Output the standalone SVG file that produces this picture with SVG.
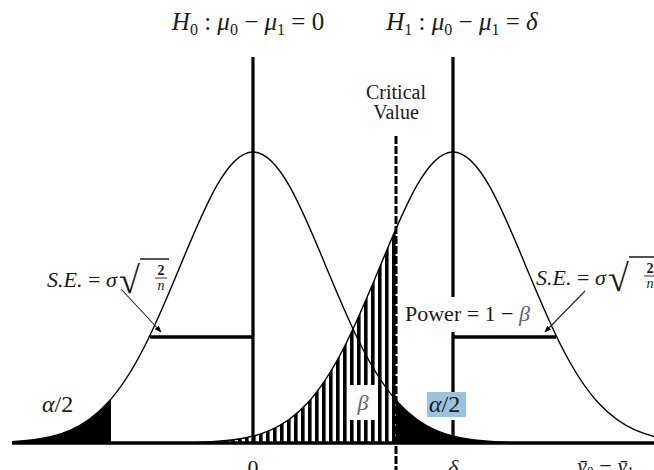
<svg xmlns="http://www.w3.org/2000/svg" width="654" height="470" viewBox="0 0 654 470">
<style>
text{font-family:"Liberation Serif","Times New Roman",serif;fill:#1a1a1a}
.it{font-style:italic}
.thick{stroke:#000;stroke-width:3.2;fill:none}
.curve{stroke:#000;stroke-width:1.4;fill:none}
.lead{stroke:#222;stroke-width:1.1;fill:none}
.gray{fill:#5a6275}
.rule{stroke:#1a1a1a;fill:none}
</style>
<defs>
<path id="gauss" d="M-255.5,442.4 C-243.333,442.0 -231.167,441.4 -219,439.8 C-206.833,438.2 -194.667,435.5 -182.5,430.2 C-170.333,424.9 -158.167,416.7 -146,403.6 C-133.833,390.5 -121.667,372.1 -109.5,348.5 C-97.333,324.9 -85.167,295.9 -73,266.5 C-60.833,237.1 -48.667,207.6 -36.5,186.2 C-24.333,164.8 -12.167,152 0,152 C12.167,152 24.333,164.8 36.5,186.2 C48.667,207.6 60.833,237.1 73,266.5 C85.167,295.9 97.333,324.9 109.5,348.5 C121.667,372.1 133.833,390.5 146,403.6 C158.167,416.7 170.333,424.9 182.5,430.2 C194.667,435.5 206.833,438.2 219,439.8 C231.167,441.4 243.333,442.0 255.5,442.4"/>
<path id="gaussArea" d="M-255.5,442.4 C-243.333,442.0 -231.167,441.4 -219,439.8 C-206.833,438.2 -194.667,435.5 -182.5,430.2 C-170.333,424.9 -158.167,416.7 -146,403.6 C-133.833,390.5 -121.667,372.1 -109.5,348.5 C-97.333,324.9 -85.167,295.9 -73,266.5 C-60.833,237.1 -48.667,207.6 -36.5,186.2 C-24.333,164.8 -12.167,152 0,152 C12.167,152 24.333,164.8 36.5,186.2 C48.667,207.6 60.833,237.1 73,266.5 C85.167,295.9 97.333,324.9 109.5,348.5 C121.667,372.1 133.833,390.5 146,403.6 C158.167,416.7 170.333,424.9 182.5,430.2 C194.667,435.5 206.833,438.2 219,439.8 C231.167,441.4 243.333,442.0 255.5,442.4 L255.5,443 L-255.5,443 Z"/>
<pattern id="hatch" patternUnits="userSpaceOnUse" x="0" y="0" width="7" height="10">
<rect x="0" y="0" width="3.6" height="10" fill="#000"/>
</pattern>
<clipPath id="clipLeftTail"><rect x="12" y="0" width="99" height="444"/></clipPath>
<clipPath id="clipRightTail"><rect x="396" y="0" width="258" height="444"/></clipPath>
<clipPath id="clipBeta"><rect x="0" y="0" width="396" height="444"/></clipPath>
<clipPath id="clipH1Area"><use href="#gaussArea" transform="translate(453,0)"/></clipPath>
<clipPath id="clipFrame"><rect x="12" y="0" width="642" height="470"/></clipPath>
<marker id="arr" viewBox="0 0 10 10" refX="9" refY="5" markerWidth="7" markerHeight="7" orient="auto" markerUnits="userSpaceOnUse">
<path d="M0,1 L10,5 L0,9 Z" fill="#000"/>
</marker>
</defs>

<g id="regions">
<g id="alpha-left-tail" clip-path="url(#clipLeftTail)"><use href="#gaussArea" transform="translate(253,0)" fill="#000"/></g>
<g id="beta-hatch" clip-path="url(#clipBeta)"><rect x="196" y="140" width="200" height="303" fill="url(#hatch)" clip-path="url(#clipH1Area)"/></g>
<g id="alpha-right-tail" clip-path="url(#clipRightTail)"><use href="#gaussArea" transform="translate(253,0)" fill="#000"/></g>
</g>

<g id="connectors">
<g clip-path="url(#clipFrame)">
<use href="#gauss" transform="translate(253,0)" class="curve"/>
<use href="#gauss" transform="translate(453,0)" class="curve"/>
</g>
<line id="axis" x1="12" y1="443" x2="654" y2="443" stroke="#000" stroke-width="3.6"/>
<line id="h0-line" x1="253" y1="57" x2="253" y2="443" class="thick"/>
<path id="h1-line" d="M453,57 V297 M453,332 V397 M453,420 V443" class="thick"/>
<line id="critical-line" x1="396" y1="136" x2="396" y2="470" stroke="#000" stroke-width="3" stroke-dasharray="8 2"/>
<line id="se-left-bar" x1="150" y1="337" x2="253" y2="337" stroke="#000" stroke-width="3.6"/>
<line id="se-right-bar" x1="453" y1="337" x2="556" y2="337" stroke="#000" stroke-width="3.6"/>
<line id="se-left-leader" x1="121" y1="289" x2="161" y2="332" class="lead" marker-end="url(#arr)"/>
<line id="se-right-leader" x1="585" y1="291" x2="545" y2="332" class="lead" marker-end="url(#arr)"/>
</g>

<g id="label-h0">
<text x="248" y="30" text-anchor="middle" font-size="25"><tspan class="it">H</tspan><tspan font-size="16" dy="5">0</tspan><tspan dy="-5"> : </tspan><tspan class="it">μ</tspan><tspan font-size="16" dy="5">0</tspan><tspan dy="-5"> − </tspan><tspan class="it">μ</tspan><tspan font-size="16" dy="5">1</tspan><tspan dy="-5"> = 0</tspan></text>
</g>
<g id="label-h1">
<text x="462" y="30" text-anchor="middle" font-size="25"><tspan class="it">H</tspan><tspan font-size="16" dy="5">1</tspan><tspan dy="-5"> : </tspan><tspan class="it">μ</tspan><tspan font-size="16" dy="5">0</tspan><tspan dy="-5"> − </tspan><tspan class="it">μ</tspan><tspan font-size="16" dy="5">1</tspan><tspan dy="-5"> = </tspan><tspan class="it">δ</tspan></text>
</g>
<g id="label-critical">
<text x="396" y="99" text-anchor="middle" font-size="20">Critical</text>
<text x="396" y="119" text-anchor="middle" font-size="20">Value</text>
</g>
<g id="label-se-left">
<text x="47" y="287" font-size="22"><tspan class="it">S.E.</tspan> = <tspan class="it">σ</tspan></text>
<text x="119" y="293" font-size="38">√</text>
<line x1="140" y1="259" x2="169" y2="259" class="rule" stroke-width="1.5"/>
<text x="161" y="275" text-anchor="middle" font-size="14" font-weight="bold">2</text>
<line x1="155" y1="278" x2="167" y2="278" class="rule" stroke-width="0.9"/>
<text x="161" y="290" text-anchor="middle" font-size="14" class="it">n</text>
</g>
<g id="label-se-right">
<text x="536" y="285" font-size="22"><tspan class="it">S.E.</tspan> = <tspan class="it">σ</tspan></text>
<text x="608" y="291" font-size="38">√</text>
<line x1="629" y1="257" x2="654" y2="257" class="rule" stroke-width="1.5"/>
<text x="650" y="273" text-anchor="middle" font-size="14" font-weight="bold">2</text>
<line x1="644" y1="276" x2="654" y2="276" class="rule" stroke-width="0.9"/>
<text x="650" y="288" text-anchor="middle" font-size="14" class="it">n</text>
</g>
<g id="label-power">
<text x="405" y="321" font-size="22">Power = 1 − <tspan class="it gray">β</tspan></text>
</g>
<g id="label-alpha-left">
<text x="42" y="412" font-size="24"><tspan class="it">α</tspan>/2</text>
</g>
<g id="label-beta">
<rect x="350" y="385" width="27" height="35" fill="#fff"/>
<text x="363" y="410" text-anchor="middle" font-size="22" class="it gray">β</text>
</g>
<g id="label-alpha-right">
<rect x="427" y="392" width="39" height="25" fill="#9cc2de"/>
<text x="429" y="412" font-size="24"><tspan class="it">α</tspan>/2</text>
</g>
<g id="label-axis">
<text x="253" y="475" text-anchor="middle" font-size="22">0</text>
<text x="453" y="475" text-anchor="middle" font-size="22" class="it">δ</text>
<text x="577" y="473" font-size="22"><tspan class="it">ȳ</tspan><tspan font-size="14" dy="4">0</tspan><tspan dy="-4"> − </tspan><tspan class="it">ȳ</tspan><tspan font-size="14" dy="4">1</tspan></text>
</g>
</svg>
